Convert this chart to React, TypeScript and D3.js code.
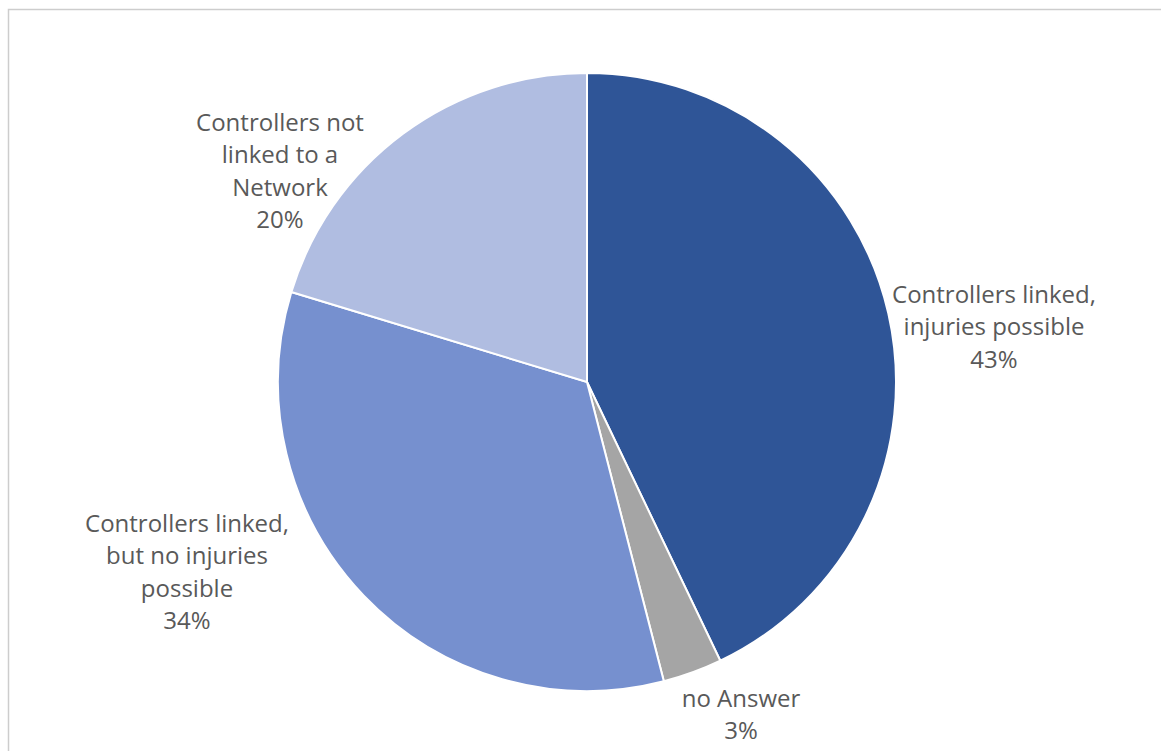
import React from "react";
import * as d3 from "d3";

const categories = [
  "Controllers linked, injuries possible",
  "no Answer",
  "Controllers linked, but no injuries possible",
  "Controllers not linked to a Network",
];
const values = [42.9, 3.1, 33.7, 20.3];
const labelLines = [
  ["Controllers linked,", "injuries possible"],
  ["no Answer"],
  ["Controllers linked,", "but no injuries", "possible"],
  ["Controllers not", "linked to a", "Network"],
];
const colors = ["#2F5597", "#A5A5A5", "#7690CF", "#B0BDE1"];

const W = 1161;
const H = 751;
const CX = 587;
const CY = 382;
const R = 309;

const labelPos: [number, number][] = [
  [994, 293],
  [741, 697],
  [187, 522],
  [280, 121],
];

export default function App() {
  const pie = d3
    .pie<number>()
    .sort(null)
    .value((d) => d);
  const arcs = pie(values);
  const arc = d3.arc<d3.PieArcDatum<number>>().innerRadius(0).outerRadius(R);
  const lineH = 32.3;
  return (
    <svg
      width={W}
      height={H}
      style={{ position: "absolute", left: 0, top: 0, background: "#fff" }}
    >
      <rect x={8.5} y={9.5} width={W + 20} height={H + 20} fill="#fff" stroke="#CDCDCD" strokeWidth={1.5} />
      <g transform={`translate(${CX},${CY})`}>
        {arcs.map((a, i) => (
          <path key={categories[i]} d={arc(a) || ""} fill={colors[i]} stroke="#fff" strokeWidth={2} />
        ))}
      </g>
      {arcs.map((a, i) => {
        const lines = [...labelLines[i], `${Math.round(values[i])}%`];
        const [x, y] = labelPos[i];
        return (
          <text
            key={"l" + i}
            x={x}
            y={y}
            textAnchor="middle"
            fill="#595959"
            fontFamily="'Open Sans', 'Noto Sans', sans-serif"
            fontSize={24}
            dominantBaseline="central"
          >
            {lines.map((l, j) => (
              <tspan key={j} x={x} y={y + j * lineH}>
                {l}
              </tspan>
            ))}
          </text>
        );
      })}
    </svg>
  );
}
